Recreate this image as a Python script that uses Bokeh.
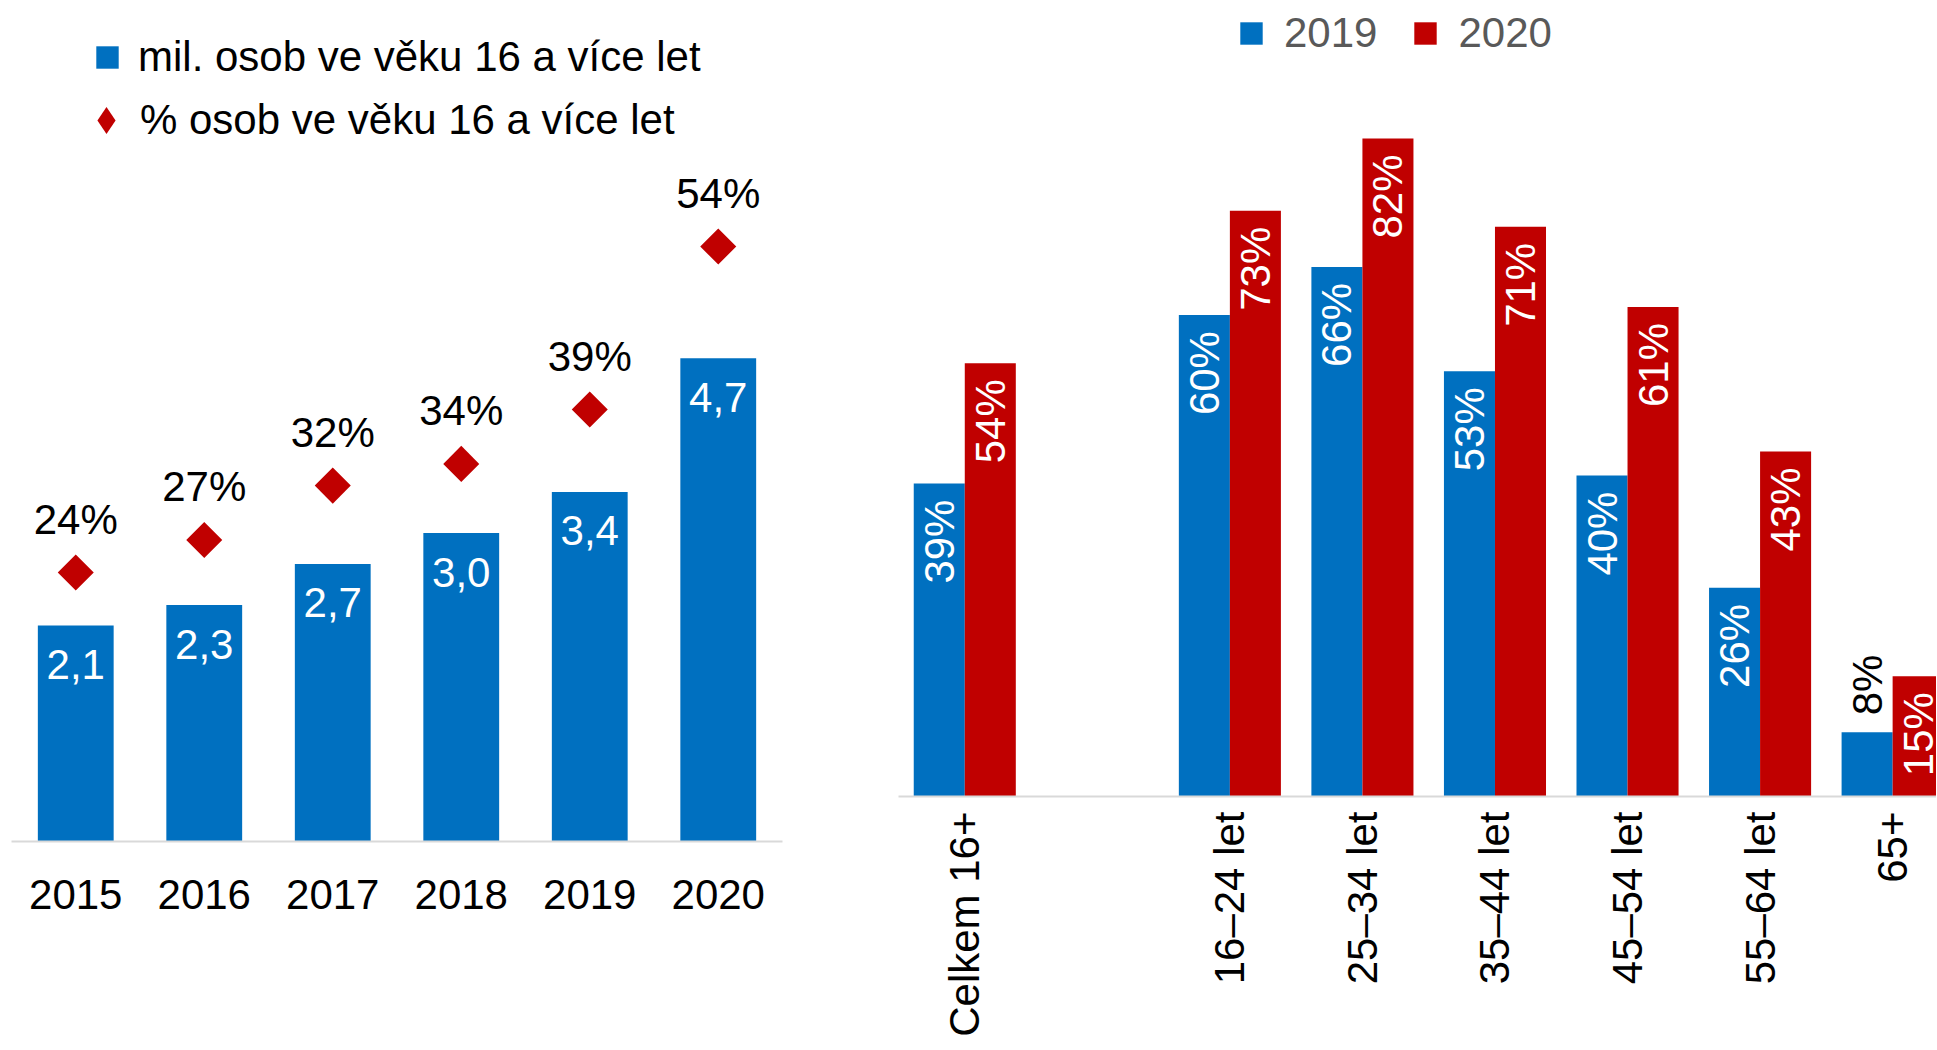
import math
from bokeh.plotting import figure
from bokeh.models import (ColumnDataSource, Range1d, FactorRange, Legend, LegendItem,
                          FixedTicker)
from bokeh.layouts import row
from bokeh.transform import dodge
from bokeh.core.properties import value
from bokeh.embed import file_html
from bokeh.resources import INLINE

# ---------------- data ----------------
years = ["2015", "2016", "2017", "2018", "2019", "2020"]
users_mil = [2.1, 2.3, 2.7, 3.0, 3.4, 4.7]
users_pct = [24, 27, 32, 34, 39, 54]
legend_left = ["mil. osob ve věku 16 a více let", "% osob ve věku 16 a více let"]

age_slots = ["Celkem 16+", "", "16–24 let", "25–34 let", "35–44 let",
             "45–54 let", "55–64 let", "65+"]
age_groups = ["Celkem 16+", "16–24 let", "25–34 let", "35–44 let",
              "45–54 let", "55–64 let", "65+"]
pct_2019 = [39, 60, 66, 53, 40, 26, 8]
pct_2020 = [54, 73, 82, 71, 61, 43, 15]
series_names = ["2019", "2020"]

# ---------------- style ----------------
BLUE = "#0070C0"
RED = "#C00000"
AXIS = "#D9D9D9"
FONT = "Liberation Sans"
FS = "42px"
H = 1048


def clean(p):
    p.outline_line_color = None
    p.xgrid.visible = False
    p.ygrid.visible = False
    p.yaxis.visible = False
    p.background_fill_color = "white"
    p.border_fill_color = "white"
    ax = p.xaxis[0]
    ax.axis_line_color = AXIS
    ax.axis_line_width = 2
    ax.major_tick_line_color = None
    ax.minor_tick_line_color = None
    ax.major_tick_in = 0
    ax.major_tick_out = 0
    ax.minor_tick_in = 0
    ax.minor_tick_out = 0
    ax.major_label_text_font = FONT
    ax.major_label_text_font_size = FS
    ax.major_label_text_color = "black"


# ---------------- left chart ----------------
p1 = figure(width=888, height=H, x_range=FactorRange(factors=years),
            y_range=Range1d(0, 8.18), output_backend="svg", toolbar_location=None,
            min_border_left=11, min_border_right=106, min_border_top=0,
            min_border_bottom=207)
p1.frame_align = False
p1.extra_y_ranges = {"pct": Range1d(-0.74, 76.63)}
clean(p1)
p1.xaxis.major_label_standoff = 38

src1 = ColumnDataSource(dict(
    year=years, mil=users_mil, pct=users_pct,
    mil_lbl=[f"{v:.1f}".replace(".", ",") for v in users_mil],
    pct_lbl=[f"{v}%" for v in users_pct],
))
bars = p1.vbar(x="year", top="mil", width=0.59, source=src1,
               fill_color=BLUE, line_color=None)
dia = p1.scatter(x="year", y="pct", y_range_name="pct", source=src1,
                 marker="square", angle=math.pi / 4, size=25.5,
                 fill_color=RED, line_color=None)
# legend swatch only: one undrawn (NaN) point so the legend can render a diamond key
dia_key = p1.scatter(x=[float("nan")], y=[float("nan")], marker="diamond",
                     fill_color=RED, line_color=None)
p1.text(x="year", y="mil", text="mil_lbl", source=src1, text_color="white",
        text_align="center", text_baseline="middle", y_offset=39,
        text_font=value(FONT), text_font_size=FS)
p1.text(x="year", y="pct", text="pct_lbl", source=src1, y_range_name="pct",
        text_color="black", text_align="center", text_baseline="middle",
        y_offset=-53, text_font=value(FONT), text_font_size=FS)

legA = Legend(items=[LegendItem(label=legend_left[0], renderers=[bars])],
              location=(82, 760), glyph_width=28, glyph_height=28,
              label_standoff=17, padding=0, margin=0, spacing=0,
              border_line_color=None, background_fill_alpha=0,
              label_text_font=FONT, label_text_font_size=FS,
              label_text_color="black")
legB = Legend(items=[LegendItem(label=legend_left[1], renderers=[dia_key])],
              location=(61, 687), glyph_width=68, glyph_height=68,
              label_standoff=-2, padding=0, margin=0, spacing=0,
              border_line_color=None, background_fill_alpha=0,
              label_text_font=FONT, label_text_font_size=FS,
              label_text_color="black")
p1.add_layout(legA)
p1.add_layout(legB)

# ---------------- right chart ----------------
slot_w = 132.55
frame_left = 898
frame_right = 1936
pos = [age_slots.index(g) + 0.5 for g in age_groups]

p2 = figure(width=frame_right - 888, height=H,
            x_range=Range1d(0, (frame_right - frame_left) / slot_w),
            y_range=Range1d(0, 99.2), output_backend="svg", toolbar_location=None,
            min_border_left=10, min_border_right=0, min_border_top=0,
            min_border_bottom=252)
p2.frame_align = False
clean(p2)
p2.xaxis.ticker = FixedTicker(ticks=pos)
p2.xaxis.major_label_overrides = {p: g for p, g in zip(pos, age_groups)}
p2.xaxis.major_label_orientation = math.pi / 2
p2.xaxis.major_label_standoff = 15

src2 = ColumnDataSource(dict(pos=pos, v19=pct_2019, v20=pct_2020))
off = 0.1925
bw = 0.385
b19 = p2.vbar(x=dodge("pos", -off), top="v19", width=bw, source=src2,
              fill_color=BLUE, line_color=None)
b20 = p2.vbar(x=dodge("pos", off), top="v20", width=bw, source=src2,
              fill_color=RED, line_color=None)


def add_labels(shift, vals):
    lbls = [f"{v}%" for v in vals]
    inside = [i for i, v in enumerate(vals) if v >= 10]
    outside = [i for i, v in enumerate(vals) if v < 10]
    s_in = ColumnDataSource(dict(x=[pos[i] for i in inside],
                                 y=[vals[i] for i in inside],
                                 t=[lbls[i] for i in inside]))
    s_out = ColumnDataSource(dict(x=[pos[i] for i in outside],
                                  y=[vals[i] for i in outside],
                                  t=[lbls[i] for i in outside]))
    p2.text(x=dodge("x", shift), y="y", text="t", source=s_in, angle=math.pi / 2,
            text_align="right", text_baseline="middle", y_offset=16,
            text_color="white", text_font=value(FONT), text_font_size=FS)
    p2.text(x=dodge("x", shift), y="y", text="t", source=s_out, angle=math.pi / 2,
            text_align="left", text_baseline="middle", y_offset=-17,
            text_color="black", text_font=value(FONT), text_font_size=FS)


add_labels(-off, pct_2019)
add_labels(off, pct_2020)

legR = Legend(items=[LegendItem(label=series_names[0], renderers=[b19]),
                     LegendItem(label=series_names[1], renderers=[b20])],
              orientation="horizontal", location=(339, 739),
              glyph_width=28, glyph_height=28, label_standoff=19, spacing=34,
              padding=0, margin=0, border_line_color=None,
              background_fill_alpha=0, label_text_font=FONT,
              label_text_font_size=FS, label_text_color="#595959")
p2.add_layout(legR)

layout = row(p1, p2)
open("out.html", "w").write(file_html(layout, INLINE))
